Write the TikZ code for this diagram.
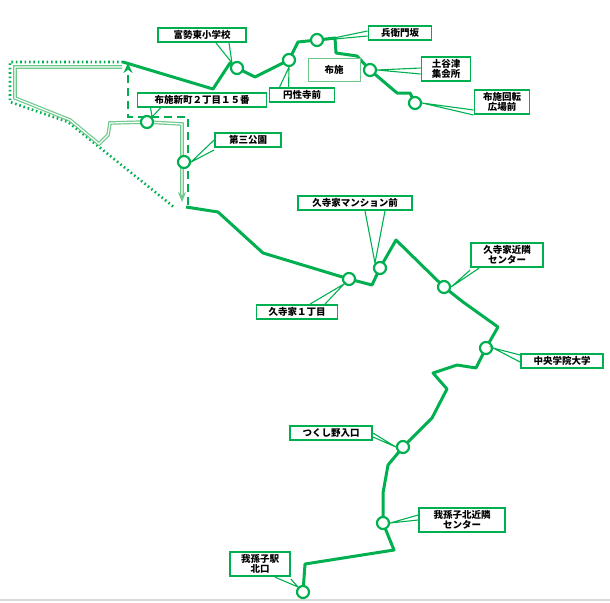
\documentclass[tikz,border=0pt]{standalone}
\usepackage{fontspec}
\setmainfont{Noto Sans CJK JP}
\usetikzlibrary{calc,arrows.meta}
\definecolor{route}{RGB}{0,176,80}
\definecolor{pale}{RGB}{110,200,140}
\tikzset{
  road/.style={route, line width=3pt, line join=round},
  stop/.style={circle, draw=route, fill=white, line width=2.2pt, minimum size=12pt, inner sep=0pt},
  tag/.style={draw=route, fill=white, line width=1.8pt, font=\fontsize{9.5}{10.5}\selectfont\bfseries, align=center, inner sep=2.5pt},
  lead/.style={route, line width=1.1pt}
}
\begin{document}
\begin{tikzpicture}[x=1pt,y=-1pt]
    \useasboundingbox (0,0) rectangle (610,602);
    \draw [gray!30, line width=1.5pt] (0,600) -- (610,600);
    % detour lines on the left
    \draw [route, line width=2.6pt, dash pattern=on 1.6pt off 2.8pt] (123,62) -- (10,62) -- (10,102) -- (68,122) -- (175,208);
    \draw [pale, double=white, double distance=1.2pt, line width=1.2pt, -{Stealth[length=10pt,width=8pt]}]
        (122,67) -- (15,67) -- (15,98) -- (70,120) -- (99,144) -- (108,135) -- (110,123) -- (147,122) -- (182,124) -- (182,202);
    \draw [route, line width=2.4pt, dash pattern=on 8pt off 5pt, -{Stealth[length=10pt,width=9pt]}]
        (188,205) -- (188,117) -- (128,117) -- (128,63);
    % main route
    \draw [road] (123,62) -- (213,89) -- (230,63) -- (237,68) -- (255,77) -- (289,60) -- (298,42) -- (317,40)
        -- (335,38) -- (336,53) -- (357,56) -- (370,70) -- (397,93) -- (410,93) -- (415,103);
    \draw [road] (186,207) -- (218,212) -- (263,253) -- (349,279) -- (372,285) -- (380,268) -- (396,240)
        -- (444,287) -- (463,302) -- (498,327) -- (486,348) -- (476,368) -- (457,365) -- (433,373)
        -- (447,389) -- (432,418) -- (403,447) -- (388,465) -- (383,493) -- (383,523) -- (394,550)
        -- (305,564) -- (303,592);
    % labels
    \node [tag, minimum width=88pt] (tomiseT) at (202,35) {富勢東小学校};
    \node [tag, minimum width=129pt] (shinmachiT) at (202,100) {布施新町２丁目１５番};
    \node [tag, minimum width=66pt] (daisanT) at (248,140) {第三公園};
    \node [tag, minimum width=65pt] (enshojiT) at (302,95) {円性寺前};
    \node [tag, minimum width=63pt] (hyoemonT) at (400,33) {兵衛門坂};
    \node [tag, draw=pale, line width=1pt, minimum width=52pt, minimum height=23pt] (fuse) at (334,70) {布施};
    \node [tag, minimum width=49pt] (tsuchiyatsuT) at (446,69) {土谷津\\集会所};
    \node [tag, minimum width=55pt] (kaitenT) at (502,102) {布施回転\\広場前};
    \node [tag, minimum width=114pt] (mansionT) at (355,203) {久寺家マンション前};
    \node [tag, minimum width=81pt] (itchomeT) at (297,312) {久寺家１丁目};
    \node [tag, minimum width=72pt] (kujiT) at (507,255) {久寺家近隣\\センター};
    \node [tag, minimum width=82pt] (chuoT) at (562,361) {中央学院大学};
    \node [tag, minimum width=82pt] (tsukushinoT) at (331,433) {つくし野入口};
    \node [tag, minimum width=86pt] (kitakinrinT) at (462,520) {我孫子北近隣\\センター};
    \node [tag, minimum width=60pt] (ekiT) at (260,564) {我孫子駅\\北口};
    % stops
    \node [stop] (tomise) at (237,68) {};
    \node [stop] (shinmachi) at (147,122) {};
    \node [stop] (daisan) at (184,162) {};
    \node [stop] (enshoji) at (289,60) {};
    \node [stop] (hyoemon) at (317,40) {};
    \node [stop] (tsuchiyatsu) at (370,70) {};
    \node [stop] (kaiten) at (415,103) {};
    \node [stop] (itchome) at (349,279) {};
    \node [stop] (mansion) at (380,268) {};
    \node [stop] (kuji) at (444,287) {};
    \node [stop] (chuo) at (486,348) {};
    \node [stop] (tsukushino) at (403,447) {};
    \node [stop] (kitakinrin) at (383,523) {};
    \node [stop] (eki) at (303,592) {};
    % leaders
    \draw [lead] ($(tomiseT.south)+(14pt,0)$) -- (tomise.north west) -- ($(tomiseT.south)+(27pt,0)$);
    \draw [lead] ($(shinmachiT.south west)+(14pt,0)$) -- (shinmachi.north east) -- ($(shinmachiT.south west)+(24pt,0)$);
    \draw [lead] (daisanT.west) -- (daisan.east) -- ($(daisanT.south west)+(0,-2pt)$);
    \draw [lead] ($(enshojiT.north west)+(11pt,0)$) -- (enshoji.south) -- ($(enshojiT.north west)+(20pt,0)$);
    \draw [lead] ($(hyoemonT.west)+(0,2pt)$) -- (hyoemon.east) -- ($(hyoemonT.west)+(0,-3pt)$);
    \draw [lead] ($(tsuchiyatsuT.west)+(0,1pt)$) -- (tsuchiyatsu.east) -- ($(tsuchiyatsuT.west)+(0,-5pt)$);
    \draw [lead] ($(kaitenT.west)+(0,-8pt)$) -- (kaiten.east) -- ($(kaitenT.west)+(0,-13pt)$);
    \draw [lead] ($(mansionT.south)+(10pt,0)$) -- (mansion.north west) -- ($(mansionT.south)+(30pt,0)$);
    \draw [lead] ($(itchomeT.north)+(13pt,0)$) -- (itchome.south west) -- ($(itchomeT.north)+(28pt,0)$);
    \draw [lead] ($(kujiT.south west)+(0,-2pt)$) -- (kuji.east) -- ($(kujiT.south west)+(9pt,0)$);
    \draw [lead] ($(chuoT.west)+(0,6pt)$) -- (chuo.east) -- ($(chuoT.west)+(0,-1pt)$);
    \draw [lead] (tsukushinoT.east) -- (tsukushino.west) -- ($(tsukushinoT.east)+(0,-4pt)$);
    \draw [lead] ($(kitakinrinT.west)+(0,5pt)$) -- (kitakinrin.east) -- (kitakinrinT.west);
    \draw [lead] ($(ekiT.south east)+(-16pt,0)$) -- (eki.north west) -- ($(ekiT.south east)+(0,-2pt)$);
\end{tikzpicture}
\end{document}
